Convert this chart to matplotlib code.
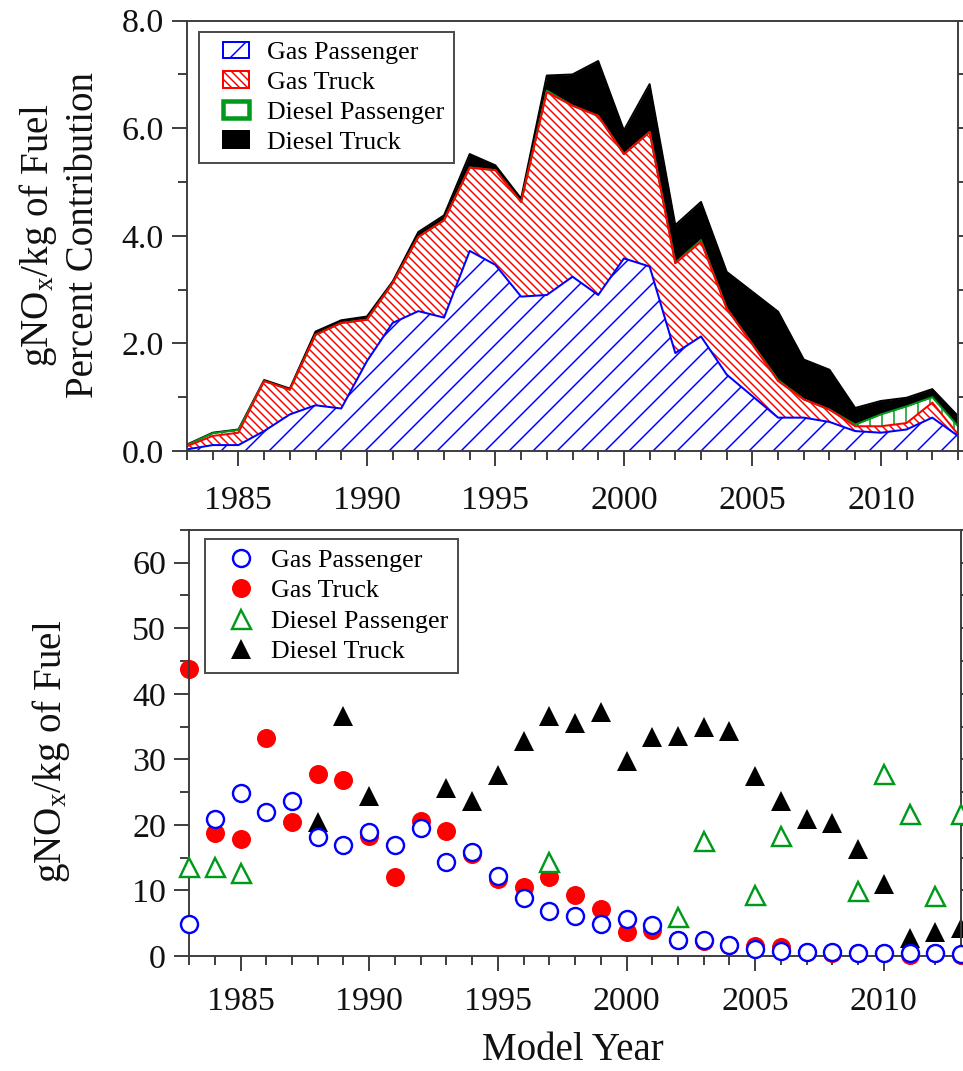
"""
plot.py - NOx emission factors by model year (stacked contribution + per-kg factors).
"""

import matplotlib
matplotlib.use("Agg")
import matplotlib.pyplot as plt
import matplotlib.patches as mpatches
from matplotlib.legend_handler import HandlerPatch
from matplotlib.ticker import MultipleLocator, FormatStrFormatter
import numpy as np

# dpi 72 -> 1 pt == 1 px, sizes below are read straight off the picture
plt.rcParams["font.family"] = ["Liberation Serif", "DejaVu Serif"]
plt.rcParams["mathtext.fontset"] = "custom"
plt.rcParams["mathtext.rm"] = "Liberation Serif"
plt.rcParams["mathtext.it"] = "Liberation Serif:italic"
plt.rcParams["hatch.linewidth"] = 1.5

DPI = 72
BLUE  = "#0000ff"
RED   = "#ff0000"
GREEN = "#009a1a"
AXIS  = "#3a3a3a"

# ---- top panel: contribution to fleet gNOx/kg of fuel, by model year
years = list(range(1983, 2014))
gas_pass_share = [0.03, 0.11, 0.11, 0.37, 0.68, 0.85, 0.79, 1.67, 2.38, 2.60,
                  2.48, 3.72, 3.46, 2.87, 2.90, 3.24, 2.90, 3.58, 3.43, 1.82,
                  2.13, 1.42, 1.02, 0.62, 0.62, 0.54, 0.37, 0.34, 0.40, 0.62, 0.28]
gas_truck_share = [0.06, 0.17, 0.23, 0.93, 0.46, 1.31, 1.59, 0.77, 0.74, 1.38,
                   1.81, 1.55, 1.76, 1.76, 3.77, 3.18, 3.33, 1.94, 2.50, 1.67,
                   1.76, 1.23, 0.96, 0.68, 0.34, 0.23, 0.09, 0.12, 0.12, 0.28, 0.03]
diesel_pass_share = [0.02, 0.05, 0.05, 0.0, 0.0, 0.0, 0.0, 0.0, 0.0, 0.0,
                     0.0, 0.0, 0.0, 0.0, 0.03, 0.0, 0.0, 0.0, 0.0, 0.01,
                     0.03, 0.0, 0.01, 0.02, 0.0, 0.0, 0.03, 0.22, 0.31, 0.10, 0.15]
diesel_truck_share = [0.01, 0.01, 0.01, 0.02, 0.02, 0.06, 0.05, 0.06, 0.03, 0.09,
                      0.09, 0.25, 0.09, 0.06, 0.28, 0.58, 1.02, 0.44, 0.89, 0.70,
                      0.71, 0.68, 0.97, 1.27, 0.74, 0.74, 0.31, 0.25, 0.16, 0.15, 0.19]

# ---- bottom panel: gNOx/kg of fuel
gas_pass_ef = [4.9, 20.9, 24.8, 21.9, 23.6, 18.1, 16.9, 18.9, 16.9, 19.6,
               14.3, 15.9, 12.2, 8.8, 6.9, 6.1, 4.9, 5.6, 4.7, 2.5,
               2.4, 1.6, 1.0, 0.7, 0.6, 0.6, 0.5, 0.5, 0.5, 0.5, 0.3]
gas_truck_ef = [43.8, 18.8, 17.9, 33.2, 20.4, 27.8, 26.8, 18.3, 12.1, 20.6,
                19.1, 15.5, 11.7, 10.5, 12.1, 9.3, 7.1, 3.6, 3.9, 2.5,
                2.3, 1.7, 1.5, 1.3, 0.6, 0.5, 0.4, 0.4, 0.2, 0.4, 0.2]
diesel_pass_years = [1983, 1984, 1985, 1997, 2002, 2003, 2005, 2006, 2009, 2010,
                     2011, 2012, 2013]
diesel_pass_ef = [13.5, 13.6, 12.7, 14.3, 5.9, 17.6, 9.3, 18.3, 9.9, 27.7,
                  21.6, 9.1, 21.6]
diesel_truck_years = [1988, 1989, 1990, 1993, 1994, 1995, 1996, 1997, 1998, 1999,
                      2000, 2001, 2002, 2003, 2004, 2005, 2006, 2007, 2008, 2009,
                      2010, 2011, 2012, 2013]
diesel_truck_ef = [20.5, 36.6, 24.4, 25.7, 23.6, 27.6, 32.8, 36.6, 35.6, 37.2,
                   29.7, 33.4, 33.6, 35.0, 34.3, 27.4, 23.6, 20.9, 20.3, 16.3,
                   11.0, 2.8, 3.6, 4.2]

labels = ["Gas Passenger", "Gas Truck", "Diesel Passenger", "Diesel Truck"]


def _style_axis(ax):
    for side in ax.spines:
        ax.spines[side].set_color(AXIS)
        ax.spines[side].set_linewidth(1.9)
    ax.tick_params(which="both", direction="out", colors=AXIS, labelcolor="#111111",
                   left=True, right=True, top=False, bottom=True, width=1.9)
    ax.tick_params(which="major", length=15, labelsize=34)
    ax.tick_params(which="minor", length=9)
    ax.tick_params(axis="y", pad=8)
    ax.xaxis.set_major_locator(MultipleLocator(5))
    ax.xaxis.set_minor_locator(MultipleLocator(1))
    ax.set_xlim(1983, 2013)


def _legend_box(legend, orig_handle, xdescent, ydescent, width, height, fontsize):
    # small swatch pushed to the right of the handle slot
    return mpatches.Rectangle((-xdescent + 0.35 * width, -ydescent), 0.65 * width, height)


fig = plt.figure(figsize=(963 / DPI, 1071 / DPI), dpi=DPI, facecolor="white")
ax1 = fig.add_axes([0.1942, 0.5789, 0.8006, 0.4018])
ax2 = fig.add_axes([0.1963, 0.1074, 0.8017, 0.3978])

# ---- stacked areas
c1 = np.array(gas_pass_share)
c2 = c1 + np.array(gas_truck_share)
c3 = c2 + np.array(diesel_pass_share)
c4 = c3 + np.array(diesel_truck_share)

ax1.fill_between(years, 0, c1, facecolor="white", edgecolor=BLUE, hatch="/", linewidth=0)
ax1.fill_between(years, c1, c2, facecolor="white", edgecolor=RED, hatch="\\\\\\", linewidth=0)
ax1.fill_between(years, c2, c3, facecolor="white", edgecolor=GREEN, hatch="|", linewidth=0)
ax1.fill_between(years, c3, c4, facecolor="black", edgecolor="black", linewidth=0)
ax1.plot(years, c4, color="black", lw=2)
ax1.plot(years, c3, color=GREEN, lw=2)
ax1.plot(years, c2, color=RED, lw=2)
ax1.plot(years, c1, color=BLUE, lw=2)

_style_axis(ax1)
ax1.set_ylim(0, 8)
ax1.yaxis.set_major_locator(MultipleLocator(2))
ax1.yaxis.set_minor_locator(MultipleLocator(1))
ax1.yaxis.set_major_formatter(FormatStrFormatter("%.1f"))
ax1.tick_params(axis="x", pad=20)

top_handles = [
    mpatches.Patch(facecolor="white", edgecolor=BLUE, hatch="/", lw=2),
    mpatches.Patch(facecolor="white", edgecolor=RED, hatch="\\\\\\", lw=2),
    mpatches.Patch(facecolor="white", edgecolor=GREEN, lw=4.5),
    mpatches.Patch(facecolor="black", edgecolor="black", lw=2),
]
leg1 = ax1.legend(top_handles, labels, loc="upper left",
                  bbox_to_anchor=(0.2066, 0.9701), bbox_transform=fig.transFigure,
                  fontsize=26, frameon=True, fancybox=False, borderpad=0.37,
                  labelspacing=0.28, handlelength=1.55, handleheight=0.62,
                  handletextpad=0.69, borderaxespad=0,
                  handler_map={mpatches.Patch: HandlerPatch(patch_func=_legend_box)})
leg1.get_frame().set_edgecolor("#222222")
leg1.get_frame().set_linewidth(2)

# ---- emission factors (open markers have a white fill, as in the source)
ax2.plot(years, gas_pass_ef, ls="none", marker="o", ms=17, mfc="white",
         mec=BLUE, mew=2.4, label=labels[0], clip_on=False, zorder=3)
ax2.plot(years, gas_truck_ef, ls="none", marker="o", ms=19, mfc=RED,
         mec=RED, mew=0, label=labels[1], clip_on=False, zorder=2)
ax2.plot(diesel_pass_years, diesel_pass_ef, ls="none", marker="^", ms=19, mfc="white",
         mec=GREEN, mew=2.4, label=labels[2], clip_on=False, zorder=3)
ax2.plot(diesel_truck_years, diesel_truck_ef, ls="none", marker="^", ms=20, mfc="black",
         mec="black", mew=0, label=labels[3], clip_on=False, zorder=2)

_style_axis(ax2)
ax2.set_ylim(0, 65)
ax2.yaxis.set_minor_locator(MultipleLocator(5))
ax2.set_yticks([0, 10, 20, 30, 40, 50, 60])
ax2.tick_params(axis="x", pad=16)

leg2 = ax2.legend(loc="upper left", bbox_to_anchor=(0.2129, 0.4967),
                  bbox_transform=fig.transFigure, fontsize=26, frameon=True,
                  fancybox=False, borderpad=0.37, labelspacing=0.28,
                  handlelength=2.06, handletextpad=0.12, borderaxespad=0, numpoints=1)
leg2.get_frame().set_edgecolor("#222222")
leg2.get_frame().set_linewidth(2)

# ---- axis titles
fig.text(0.062, 0.7806, "gNO$_\\mathrm{x}$/kg of Fuel\nPercent Contribution",
         rotation=90, ha="center", va="center", fontsize=39, linespacing=1.2,
         color="#111111")
fig.text(0.053, 0.298, "gNO$_\\mathrm{x}$/kg of Fuel", rotation=90,
         ha="center", va="center", fontsize=39, color="#111111")
fig.text(0.595, 0.002, "Model Year", ha="center", va="bottom",
         fontsize=39, color="#111111")

fig.savefig("out.png", dpi=DPI, facecolor="white")
plt.close(fig)
